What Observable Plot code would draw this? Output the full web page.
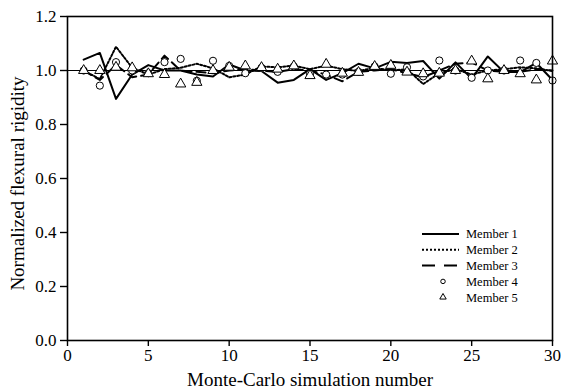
<!DOCTYPE html>
<html>
<head>
<meta charset="utf-8">
<script src="https://cdn.jsdelivr.net/npm/d3@7"></script>
<script src="https://cdn.jsdelivr.net/npm/@observablehq/plot@0.6"></script>
<style>
  html, body { margin: 0; padding: 0; background: #fff; }
  #chart svg { display: block; }
</style>
</head>
<body>
<div id="chart"></div>
<script>
// Monte-Carlo run index
const runs = d3.range(1, 31);

// Normalized flexural rigidity of each member, one value per run
const member1 = [1.040, 1.065, 0.895, 0.985, 1.020, 1.000, 1.000, 0.985, 0.978, 1.022,
                 1.000, 0.998, 0.955, 0.965, 1.005, 0.965, 0.990, 1.025, 1.008, 1.032,
                 1.028, 1.035, 0.970, 1.030, 0.970, 1.052, 0.994, 0.994, 1.028, 0.965];
const member2 = [1.000, 0.968, 1.088, 1.010, 0.985, 1.005, 1.010, 1.025, 1.008, 0.975,
                 0.985, 1.015, 1.012, 1.018, 1.005, 1.018, 1.005, 0.998, 1.010, 1.000,
                 1.005, 0.950, 0.990, 1.005, 0.985, 1.000, 1.005, 1.012, 1.008, 0.998];
const member3 = [1.000, 0.965, 1.020, 0.975, 0.985, 1.055, 1.000, 0.995, 0.990, 1.000,
                 1.005, 1.000, 0.995, 1.005, 1.000, 0.985, 0.960, 0.995, 1.000, 1.005,
                 0.990, 0.975, 1.000, 1.025, 1.030, 1.000, 0.995, 0.995, 1.005, 1.000];
const member4 = [1.000, 0.944, 1.031, 1.000, 0.990, 1.031, 1.043, 0.962, 1.036, 1.017,
                 0.990, 1.010, 0.995, 1.015, 0.988, 0.985, 0.985, 0.995, 1.015, 0.988,
                 1.012, 0.978, 1.037, 1.000, 0.973, 1.000, 1.000, 1.037, 1.028, 0.963];
const member5 = [1.000, 1.000, 1.012, 1.010, 0.988, 0.985, 0.950, 0.956, 1.000, 1.012,
                 1.017, 1.011, 1.005, 1.017, 0.981, 1.023, 0.990, 0.993, 1.015, 1.019,
                 0.994, 0.988, 0.990, 1.000, 1.035, 0.969, 1.000, 0.988, 0.965, 1.035];

const xTicks = [0, 5, 10, 15, 20, 25, 30];
const yTicks = [0, 0.2, 0.4, 0.6, 0.8, 1.0, 1.2];

const seriesNames = ["Member 1", "Member 2", "Member 3", "Member 4", "Member 5"];

const toRows = (vals) => runs.map((r, i) => ({run: r, value: vals[i]}));

const font = "'Liberation Serif', 'Times New Roman', serif";

const plot = Plot.plot({
  width: 561,
  height: 392,
  marginLeft: 67,
  marginRight: 9,
  marginTop: 16,
  marginBottom: 52,
  style: {fontFamily: font, fontSize: "17px", color: "black", background: "white"},
  x: {domain: [0, 30]},
  y: {domain: [0, 1.2]},
  marks: [
    Plot.ruleY([1], {stroke: "black", strokeWidth: 1}),
    Plot.lineY(toRows(member1), {x: "run", y: "value", stroke: "black", strokeWidth: 2}),
    Plot.lineY(toRows(member2), {x: "run", y: "value", stroke: "black", strokeWidth: 2, strokeDasharray: "2,2"}),
    Plot.lineY(toRows(member3), {x: "run", y: "value", stroke: "black", strokeWidth: 2, strokeDasharray: "9,5"}),
    Plot.dot(toRows(member4), {x: "run", y: "value", symbol: "circle", r: 3.6, fill: "white", stroke: "black", strokeWidth: 1}),
    Plot.dot(toRows(member5), {x: "run", y: "value", symbol: "triangle", r: 3.8, fill: "white", stroke: "black", strokeWidth: 1}),
    Plot.frame({stroke: "black", strokeWidth: 1.6}),
    Plot.axisX({ticks: xTicks, tickSize: 6, tickPadding: 2, strokeWidth: 1.4, label: null, fontSize: 17}),
    Plot.axisY({ticks: yTicks, tickSize: 7, tickPadding: 4, strokeWidth: 1.4, tickFormat: d3.format(".1f"), label: null, fontSize: 17}),
    Plot.text(["Monte-Carlo simulation number"], {frameAnchor: "bottom", dy: 39, lineAnchor: "middle", fontSize: 19}),
    Plot.text(["Normalized flexural rigidity"], {frameAnchor: "left", dx: -50, dy: 5, rotate: -90, textAnchor: "middle", lineAnchor: "middle", fontSize: 19})
  ]
});

document.getElementById("chart").appendChild(plot);

// Legend in the lower right corner of the plot area
const svg = d3.select(plot);
const x = plot.scale("x"), y = plot.scale("y");
const right = x.range[1], bottom = y.range[0];
const legend = svg.append("g")
  .attr("transform", `translate(${right - 130},${bottom - 106})`)
  .attr("font-family", font)
  .attr("font-size", 12.5)
  .attr("text-anchor", "start");
const rowH = 15.8;
const styles = [
  {type: "line", dash: null},
  {type: "line", dash: "2,2"},
  {type: "line", dash: "13,9"},
  {type: "circle"},
  {type: "triangle"}
];
seriesNames.forEach((name, i) => {
  const g = legend.append("g").attr("transform", `translate(0,${i * rowH})`);
  const s = styles[i];
  if (s.type === "line") {
    g.append("line").attr("x1", 0).attr("x2", 37).attr("y1", 0).attr("y2", 0)
      .attr("stroke", "black").attr("stroke-width", 2)
      .attr("stroke-dasharray", s.dash);
  } else {
    const sym = s.type === "circle" ? d3.symbolCircle : d3.symbolTriangle;
    g.append("path").attr("transform", "translate(21,0)")
      .attr("d", d3.symbol(sym, s.type === "circle" ? 16 : 18)())
      .attr("fill", "white").attr("stroke", "black").attr("stroke-width", 1);
  }
  g.append("text").attr("x", 44).attr("y", 0).attr("dy", "0.35em")
    .attr("text-anchor", "start").text(name);
});
</script>
</body>
</html>
